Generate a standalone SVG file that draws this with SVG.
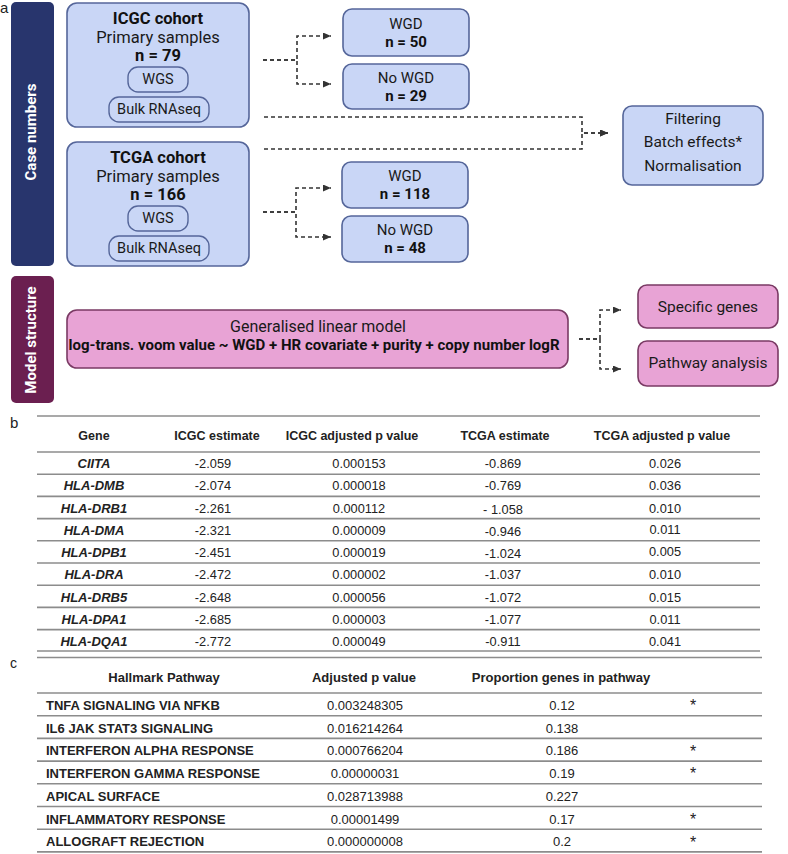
<svg xmlns="http://www.w3.org/2000/svg" width="788" height="854" viewBox="0 0 788 854">
<style>
.bg{fill:#ffffff}
.blue{fill:#c9d6f6;stroke:#55669a;stroke-width:1.6}
.pill{fill:#c9d6f6;stroke:#55669a;stroke-width:1.4}
.pink{fill:#e8a3d5;stroke:#7a3a64;stroke-width:1.6}
.r{font-family:Roboto,"Liberation Sans",sans-serif;fill:#1a1a1a}
.rb{font-family:Roboto,"Liberation Sans",sans-serif;font-weight:bold;fill:#111}
.side{font-family:Roboto,"Liberation Sans",sans-serif;font-weight:bold;fill:#ffffff;font-size:15px}
.conn{fill:none;stroke:#333;stroke-width:1.6;stroke-dasharray:4 3}
.a{font-family:"Liberation Sans",Arial,sans-serif;fill:#222}
.th{font-family:"Liberation Sans",Arial,sans-serif;font-weight:bold;fill:#222;font-size:12.5px}
.td{font-family:"Liberation Sans",Arial,sans-serif;fill:#222;font-size:12.8px}
.tg{font-family:"Liberation Sans",Arial,sans-serif;font-weight:bold;font-style:italic;fill:#222;font-size:13px}
.cb{font-family:"Liberation Sans",Arial,sans-serif;font-weight:bold;fill:#222;font-size:13px}
.cd{font-family:"Liberation Sans",Arial,sans-serif;fill:#222;font-size:13px}
.ast{font-family:"Liberation Sans",Arial,sans-serif;fill:#222;font-size:16px;text-anchor:middle}
.line{stroke:#8c8c8c;stroke-width:1.6}
.m{text-anchor:middle}
</style>
<defs>
<marker id="arr" markerUnits="userSpaceOnUse" markerWidth="9" markerHeight="8" refX="8" refY="3.5" orient="auto">
<path d="M0,0 L8,3.5 L0,7 z" fill="#333"/>
</marker>
</defs>
<rect class="bg" x="0" y="0" width="788" height="854"/>

<!-- panel labels -->
<text class="a" x="0" y="13" font-size="15">a</text>
<text class="a" x="10" y="428" font-size="15">b</text>
<text class="a" x="10" y="668" font-size="14">c</text>

<!-- side bars -->
<g id="bar-case">
<rect x="11" y="2" width="43" height="264" rx="5" fill="#28356d"/>
<text class="side m" transform="translate(36,132) rotate(-90)">Case numbers</text>
</g>
<g id="bar-model">
<rect x="11" y="276" width="43" height="127" rx="5" fill="#6b1f50"/>
<text class="side m" transform="translate(36,340) rotate(-90)">Model structure</text>
</g>

<!-- connectors -->
<g id="connectors">
<path class="conn" d="M263,60 H297 V36 H331" marker-end="url(#arr)"/>
<path class="conn" d="M263,60 H297 V84 H331" marker-end="url(#arr)"/>
<path class="conn" d="M264,117 H582 V133 H608" marker-end="url(#arr)"/>
<path class="conn" d="M264,149 H582 V133 H608" marker-end="url(#arr)"/>
<path class="conn" d="M263,212 H296 V188 H331" marker-end="url(#arr)"/>
<path class="conn" d="M263,212 H296 V237 H331" marker-end="url(#arr)"/>
<path class="conn" d="M579,339 H600 V310 H621" marker-end="url(#arr)"/>
<path class="conn" d="M579,339 H600 V369 H621" marker-end="url(#arr)"/>
</g>

<!-- ICGC -->
<g id="icgc">
<rect class="blue" x="67" y="3" width="182" height="124" rx="10"/>
<text class="rb m" x="158" y="24" font-size="16.5">ICGC cohort</text>
<text class="r m" x="158" y="43" font-size="16.5">Primary samples</text>
<text class="rb m" x="158" y="61" font-size="16.5">n = 79</text>
<rect class="pill" x="128" y="67" width="60" height="25" rx="10"/>
<text class="r m" x="158" y="84" font-size="14.5">WGS</text>
<rect class="pill" x="109" y="97" width="100" height="25" rx="10"/>
<text class="r m" x="159" y="114" font-size="14.5">Bulk RNAseq</text>
</g>

<!-- TCGA -->
<g id="tcga">
<rect class="blue" x="67" y="142" width="182" height="124" rx="10"/>
<text class="rb m" x="158" y="163" font-size="16.5">TCGA cohort</text>
<text class="r m" x="158" y="182" font-size="16.5">Primary samples</text>
<text class="rb m" x="158" y="200" font-size="16.5">n = 166</text>
<rect class="pill" x="128" y="206" width="60" height="25" rx="10"/>
<text class="r m" x="158" y="223" font-size="14.5">WGS</text>
<rect class="pill" x="109" y="236" width="100" height="25" rx="10"/>
<text class="r m" x="159" y="253" font-size="14.5">Bulk RNAseq</text>
</g>

<g id="icgc-wgd">
<rect class="blue" x="343" y="9" width="126" height="47" rx="9"/>
<text class="r m" x="406" y="29" font-size="15">WGD</text>
<text class="rb m" x="406" y="47" font-size="15">n = 50</text>
</g>
<g id="icgc-nowgd">
<rect class="blue" x="343" y="64" width="126" height="45" rx="9"/>
<text class="r m" x="406" y="83" font-size="15">No WGD</text>
<text class="rb m" x="406" y="101" font-size="15">n = 29</text>
</g>
<g id="tcga-wgd">
<rect class="blue" x="342" y="162" width="126" height="46" rx="9"/>
<text class="r m" x="405" y="181" font-size="15">WGD</text>
<text class="rb m" x="405" y="199" font-size="15">n = 118</text>
</g>
<g id="tcga-nowgd">
<rect class="blue" x="342" y="216" width="126" height="46" rx="9"/>
<text class="r m" x="405" y="235" font-size="15">No WGD</text>
<text class="rb m" x="405" y="253" font-size="15">n = 48</text>
</g>
<g id="filtering">
<rect class="blue" x="623" y="106" width="140" height="79" rx="9"/>
<text class="r m" x="693" y="124" font-size="15.5">Filtering</text>
<text class="r m" x="693" y="147" font-size="15.5">Batch effects*</text>
<text class="r m" x="693" y="171" font-size="15.5">Normalisation</text>
</g>

<g id="glm">
<rect class="pink" x="67" y="310" width="501" height="58" rx="10"/>
<text class="r m" x="318" y="332" font-size="16">Generalised linear model</text>
<text class="rb m" x="314" y="350" font-size="15">log-trans. voom value ~ WGD + HR covariate + purity + copy number logR</text>
</g>
<g id="specific-genes">
<rect class="pink" x="638" y="285" width="140" height="43" rx="9"/>
<text class="r m" x="708" y="312" font-size="15.5">Specific genes</text>
</g>
<g id="pathway-analysis">
<rect class="pink" x="638" y="341" width="140" height="45" rx="9"/>
<text class="r m" x="708" y="368" font-size="15.5">Pathway analysis</text>
</g>

<!-- Table b -->
<g id="table-b">
<line class="line" x1="37" y1="416" x2="760" y2="416"/>
<text class="th m" x="94" y="440">Gene</text>
<text class="th m" x="217" y="440">ICGC estimate</text>
<text class="th m" x="352" y="440">ICGC adjusted p value</text>
<text class="th m" x="505" y="440">TCGA estimate</text>
<text class="th m" x="662" y="440">TCGA adjusted p value</text>
<line class="line" x1="37" y1="452" x2="760" y2="452"/>
<line class="line" x1="37" y1="474.2" x2="760" y2="474.2"/>
<line class="line" x1="37" y1="496.4" x2="760" y2="496.4"/>
<line class="line" x1="37" y1="518.6" x2="760" y2="518.6"/>
<line class="line" x1="37" y1="540.8" x2="760" y2="540.8"/>
<line class="line" x1="37" y1="563" x2="760" y2="563"/>
<line class="line" x1="37" y1="585.2" x2="760" y2="585.2"/>
<line class="line" x1="37" y1="607.4" x2="760" y2="607.4"/>
<line class="line" x1="37" y1="629.6" x2="760" y2="629.6"/>
<line class="line" x1="37" y1="651" x2="760" y2="651"/>

<text class="tg m" x="94" y="468">CIITA</text>
<text class="td m" x="213" y="468">-2.059</text>
<text class="td m" x="359" y="468">0.000153</text>
<text class="td m" x="503" y="468">-0.869</text>
<text class="td m" x="665" y="468">0.026</text>

<text class="tg m" x="94" y="490">HLA-DMB</text>
<text class="td m" x="213" y="490">-2.074</text>
<text class="td m" x="359" y="490">0.000018</text>
<text class="td m" x="503" y="490">-0.769</text>
<text class="td m" x="665" y="490">0.036</text>

<text class="tg m" x="94" y="512.5">HLA-DRB1</text>
<text class="td m" x="213" y="512.5">-2.261</text>
<text class="td m" x="359" y="512.5">0.000112</text>
<text class="td m" x="503" y="514">- 1.058</text>
<text class="td m" x="665" y="512.5">0.010</text>

<text class="tg m" x="94" y="535">HLA-DMA</text>
<text class="td m" x="213" y="535">-2.321</text>
<text class="td m" x="359" y="535">0.000009</text>
<text class="td m" x="503" y="536">-0.946</text>
<text class="td m" x="665" y="534">0.011</text>

<text class="tg m" x="94" y="557">HLA-DPB1</text>
<text class="td m" x="213" y="557">-2.451</text>
<text class="td m" x="359" y="557">0.000019</text>
<text class="td m" x="503" y="558">-1.024</text>
<text class="td m" x="665" y="556">0.005</text>

<text class="tg m" x="94" y="579">HLA-DRA</text>
<text class="td m" x="213" y="579">-2.472</text>
<text class="td m" x="359" y="579">0.000002</text>
<text class="td m" x="503" y="579">-1.037</text>
<text class="td m" x="665" y="579">0.010</text>

<text class="tg m" x="94" y="601.5">HLA-DRB5</text>
<text class="td m" x="213" y="601.5">-2.648</text>
<text class="td m" x="359" y="601.5">0.000056</text>
<text class="td m" x="503" y="601.5">-1.072</text>
<text class="td m" x="665" y="601.5">0.015</text>

<text class="tg m" x="94" y="624">HLA-DPA1</text>
<text class="td m" x="213" y="624">-2.685</text>
<text class="td m" x="359" y="624">0.000003</text>
<text class="td m" x="503" y="624">-1.077</text>
<text class="td m" x="665" y="624">0.011</text>

<text class="tg m" x="94" y="646">HLA-DQA1</text>
<text class="td m" x="213" y="646">-2.772</text>
<text class="td m" x="359" y="646">0.000049</text>
<text class="td m" x="503" y="646">-0.911</text>
<text class="td m" x="665" y="646">0.041</text>
</g>

<!-- Table c -->
<g id="table-c">
<line class="line" x1="37" y1="657.5" x2="762" y2="657.5"/>
<text class="cb m" x="164" y="682">Hallmark Pathway</text>
<text class="cb m" x="364" y="682">Adjusted p value</text>
<text class="cb m" x="561" y="682">Proportion genes in pathway</text>
<line class="line" x1="37" y1="693" x2="762" y2="693"/>
<line class="line" x1="37" y1="715.7" x2="762" y2="715.7"/>
<line class="line" x1="37" y1="738.4" x2="762" y2="738.4"/>
<line class="line" x1="37" y1="761.1" x2="762" y2="761.1"/>
<line class="line" x1="37" y1="783.8" x2="762" y2="783.8"/>
<line class="line" x1="37" y1="806.5" x2="762" y2="806.5"/>
<line class="line" x1="37" y1="829.2" x2="762" y2="829.2"/>
<line class="line" x1="37" y1="851.9" x2="762" y2="851.9"/>

<text class="cb" x="46" y="709.5">TNFA SIGNALING VIA NFKB</text>
<text class="cd m" x="365" y="709.5">0.003248305</text>
<text class="cd m" x="562" y="709.5">0.12</text>
<text class="ast" x="693" y="711">*</text>

<text class="cb" x="46" y="732.5">IL6 JAK STAT3 SIGNALING</text>
<text class="cd m" x="365" y="732.5">0.016214264</text>
<text class="cd m" x="562" y="732.5">0.138</text>

<text class="cb" x="46" y="755">INTERFERON ALPHA RESPONSE</text>
<text class="cd m" x="365" y="755">0.000766204</text>
<text class="cd m" x="562" y="755">0.186</text>
<text class="ast" x="693" y="757">*</text>

<text class="cb" x="46" y="778">INTERFERON GAMMA RESPONSE</text>
<text class="cd m" x="365" y="778">0.00000031</text>
<text class="cd m" x="562" y="778">0.19</text>
<text class="ast" x="693" y="779">*</text>

<text class="cb" x="46" y="800.5">APICAL SURFACE</text>
<text class="cd m" x="365" y="800.5">0.028713988</text>
<text class="cd m" x="562" y="800.5">0.227</text>

<text class="cb" x="46" y="823.5">INFLAMMATORY RESPONSE</text>
<text class="cd m" x="365" y="823.5">0.00001499</text>
<text class="cd m" x="562" y="823.5">0.17</text>
<text class="ast" x="693" y="825">*</text>

<text class="cb" x="46" y="846">ALLOGRAFT REJECTION</text>
<text class="cd m" x="365" y="846">0.000000008</text>
<text class="cd m" x="562" y="846">0.2</text>
<text class="ast" x="693" y="848">*</text>
</g>
</svg>
